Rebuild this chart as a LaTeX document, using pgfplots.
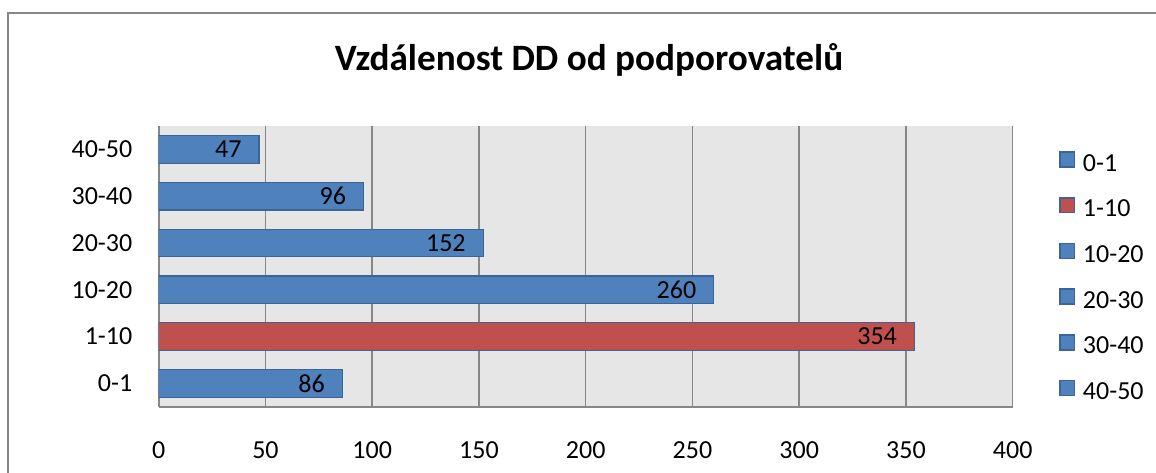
\documentclass[border=0pt]{standalone}
\usepackage{fontspec}
\setmainfont{Carlito}
\usepackage{pgfplots}
\pgfplotsset{compat=1.18}
\definecolor{barblue}{HTML}{4F81BD}
\definecolor{barred}{HTML}{C0504D}
\definecolor{bardark}{RGB}{60,100,150}
\definecolor{plotbg}{HTML}{E6E6E6}
\definecolor{gridgray}{HTML}{878787}
\begin{document}
\begin{tikzpicture}
\useasboundingbox (0,0) rectangle (578pt,-236pt);
\draw[gridgray, line width=1pt] (4.15pt,-240pt) -- (4.15pt,-6.5pt) -- (580pt,-6.5pt);
\node[anchor=base, inner sep=0pt, font=\bfseries\fontsize{18.6}{22}\selectfont] at (294.5pt,-35pt) {Vzdálenost DD od podporovatelů};
\begin{axis}[
  at={(79.35pt,-203.35pt)}, anchor=south west,
  scale only axis, width=427pt, height=140.35pt,
  xbar, bar width=13.8pt,
  xmin=0, xmax=400, ymin=-0.5, ymax=5.5,
  xtick={0,50,...,400},
  ytick={0,1,2,3,4,5},
  yticklabels={0-1,1-10,10-20,20-30,30-40,40-50},
  /pgf/number format/assume math mode=true,
  major tick length=0pt,
  xmajorgrids, grid style={gridgray, line width=0.75pt},
  axis background/.style={fill=plotbg},
  separate axis lines,
  axis x line*=bottom, axis y line*=left,
  axis line style={gridgray, line width=1pt, -},
  tick label style={font=\fontsize{13}{15}\selectfont, inner sep=0pt},
  xticklabel style={yshift=-17.5pt},
  yticklabel style={xshift=-13pt},
  nodes near coords,
  every node near coord/.append style={anchor=east, inner sep=0pt, xshift=-8.5pt, font=\fontsize{13}{15}\selectfont, text=black},
  legend style={draw=none, fill=none, inner sep=0pt, at={(1.0542,0.911)}, anchor=north west,
    font=\fontsize{13}{15}\selectfont, row sep=11.04pt, column sep=3.8pt,
    nodes={inner sep=0pt, text height=8pt, text depth=2pt}},
  legend cell align=left,
  legend image code/.code={\draw[#1, draw=bardark, line width=0.8pt] (0pt,-1pt) rectangle (7.2pt,6.4pt);},
]
\addplot[fill=barblue, draw=bardark, line width=0.6pt, bar shift=0pt] coordinates {(86,0)};
\addlegendentry{0-1}
\addplot[fill=barred, draw=bardark, line width=0.6pt, bar shift=0pt] coordinates {(354,1)};
\addlegendentry{1-10}
\addplot[fill=barblue, draw=bardark, line width=0.6pt, bar shift=0pt] coordinates {(260,2)};
\addlegendentry{10-20}
\addplot[fill=barblue, draw=bardark, line width=0.6pt, bar shift=0pt] coordinates {(152,3)};
\addlegendentry{20-30}
\addplot[fill=barblue, draw=bardark, line width=0.6pt, bar shift=0pt] coordinates {(96,4)};
\addlegendentry{30-40}
\addplot[fill=barblue, draw=bardark, line width=0.6pt, bar shift=0pt] coordinates {(47,5)};
\addlegendentry{40-50}
\end{axis}
\end{tikzpicture}
\end{document}
